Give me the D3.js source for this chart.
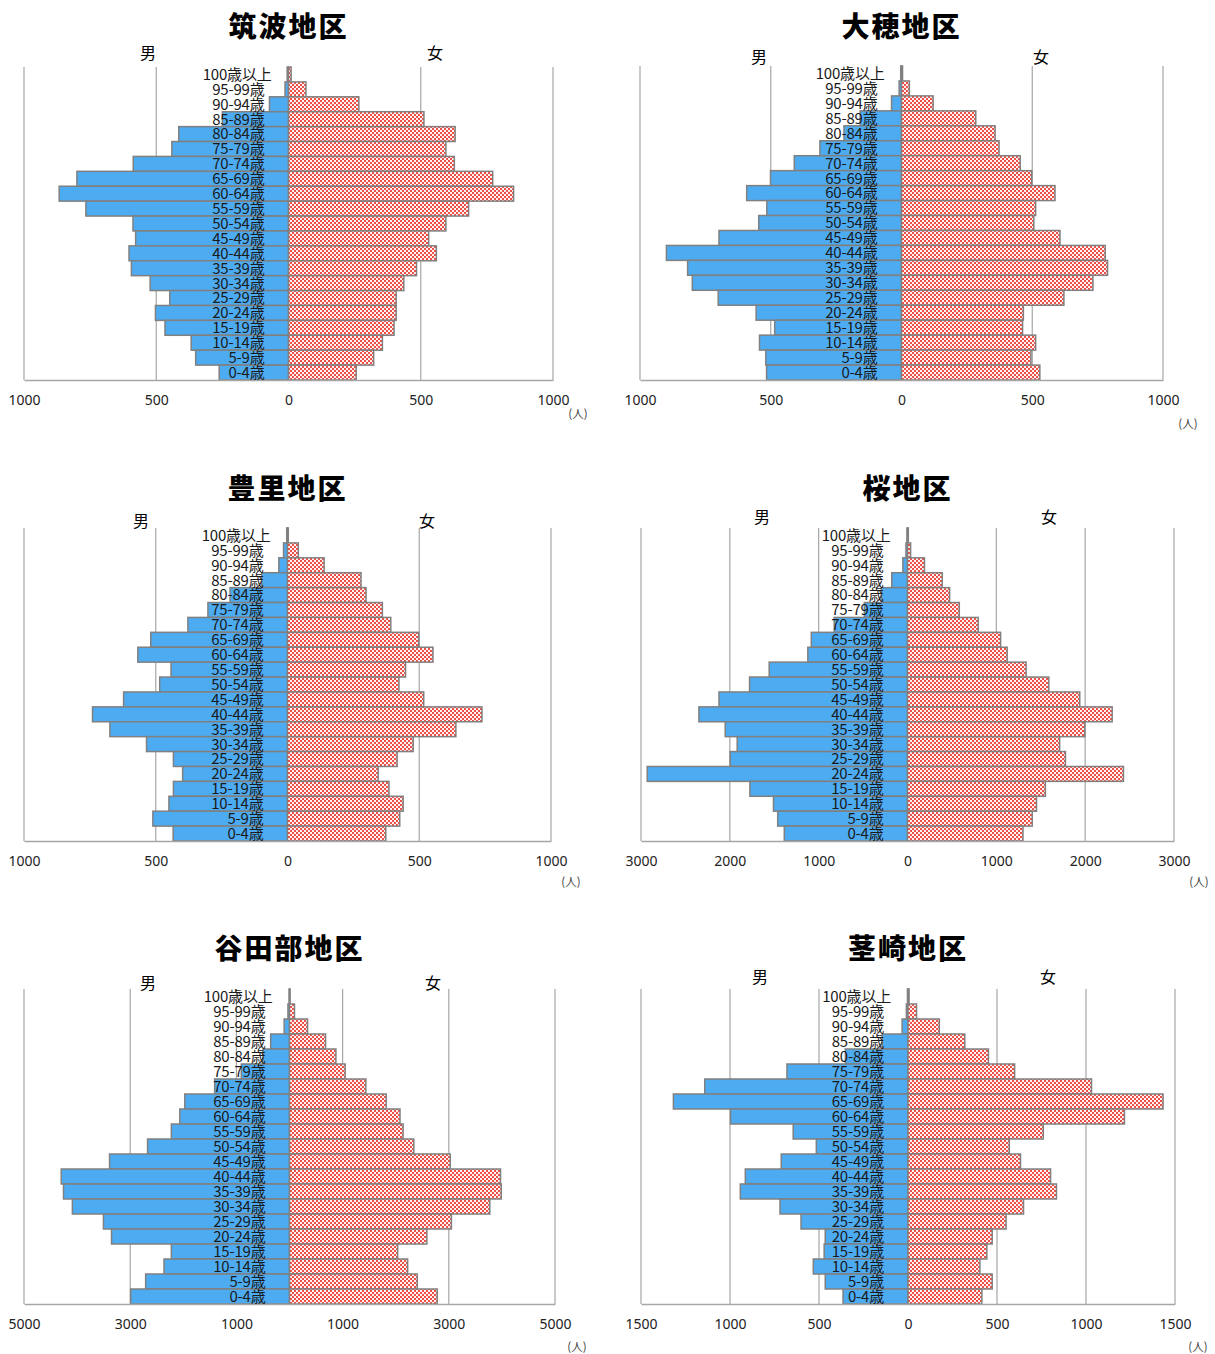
<!DOCTYPE html>
<html lang="ja">
<head>
<meta charset="UTF-8">
<title>地区別人口ピラミッド</title>
<script src="https://d3js.org/d3.v7.min.js"></script>
<style>
  body { margin: 0; background: #fff; font-family: "Noto Sans CJK JP", "Noto Sans", sans-serif; }
  .title { font-size: 28px; font-weight: 900; text-anchor: middle; letter-spacing: 2px; }
  .sex { font-size: 16px; text-anchor: middle; }
  .age { font-size: 15px; text-anchor: end; fill: #1a1a1a; letter-spacing: -0.2px; }
  .tick text { font-family: "Noto Sans", sans-serif; font-size: 14px; fill: #222; }
  .unit { font-size: 11.5px; fill: #444; }
</style>
</head>
<body>
<div id="chart"></div>
<script>
// 年齢区分（上から）
const ages = ["100歳以上", "95-99歳", "90-94歳", "85-89歳", "80-84歳", "75-79歳", "70-74歳",
  "65-69歳", "60-64歳", "55-59歳", "50-54歳", "45-49歳", "40-44歳", "35-39歳", "30-34歳",
  "25-29歳", "20-24歳", "15-19歳", "10-14歳", "5-9歳", "0-4歳"];

const districts = ["筑波地区", "大穂地区", "豊里地区", "桜地区", "谷田部地区", "茎崎地区"];

// 男
const tsukubaM = [5, 13, 72, 250, 415, 441, 587, 800, 867, 766, 588, 578, 603, 594, 523, 449, 503, 467, 368, 351, 262];
const ohoM = [3, 9, 38, 158, 220, 312, 410, 501, 592, 515, 546, 698, 899, 818, 800, 701, 556, 485, 543, 519, 516];
const toyosatoM = [3, 15, 33, 98, 218, 302, 378, 519, 568, 442, 485, 622, 740, 674, 535, 433, 398, 433, 450, 511, 434];
const sakuraM = [5, 17, 52, 177, 294, 486, 825, 1083, 1122, 1557, 1778, 2122, 2348, 2052, 1917, 1996, 2930, 1774, 1509, 1461, 1387];
const yatabeM = [5, 29, 101, 355, 500, 908, 1410, 1972, 2066, 2225, 2673, 3389, 4299, 4256, 4089, 3504, 3352, 2225, 2363, 2709, 2991];
const kukizakiM = [3, 9, 33, 145, 352, 680, 1142, 1318, 997, 645, 515, 712, 914, 942, 719, 601, 465, 471, 532, 465, 365];

// 女
const tsukubaF = [10, 66, 266, 512, 630, 595, 627, 772, 851, 681, 595, 530, 559, 484, 436, 407, 407, 399, 355, 322, 256];
const ohoF = [4, 30, 121, 284, 358, 373, 454, 498, 587, 513, 506, 606, 779, 788, 732, 621, 466, 463, 513, 495, 529];
const toyosatoF = [3, 41, 139, 279, 298, 360, 392, 498, 552, 448, 423, 517, 738, 639, 477, 416, 344, 385, 439, 426, 373];
const sakuraF = [9, 35, 191, 391, 474, 583, 796, 1048, 1122, 1335, 1591, 1939, 2304, 1996, 1713, 1778, 2431, 1552, 1452, 1404, 1300];
const yatabeF = [10, 94, 340, 679, 874, 1048, 1438, 1821, 2081, 2139, 2341, 3027, 3974, 3988, 3772, 3049, 2587, 2037, 2225, 2406, 2782];
const kukizakiF = [6, 48, 176, 319, 452, 599, 1031, 1433, 1216, 760, 569, 632, 801, 834, 649, 551, 473, 443, 404, 473, 415];

// 目盛
const ticks1000 = [-1000, -500, 0, 500, 1000];
const ticks3000 = [-3000, -2000, -1000, 0, 1000, 2000, 3000];
const ticks5000 = [-5000, -3000, -1000, 1000, 3000, 5000];
const ticks1500 = [-1500, -1000, -500, 0, 500, 1000, 1500];

const maleData = [tsukubaM, ohoM, toyosatoM, sakuraM, yatabeM, kukizakiM];
const femaleData = [tsukubaF, ohoF, toyosatoF, sakuraF, yatabeF, kukizakiF];
const tickSets = [ticks1000, ticks1000, ticks1000, ticks3000, ticks5000, ticks1500];

// 配置
const layout = [
  { left: 24, right: 553, top: 67, bottom: 380, titleY: 27, sexY: 53, male: 148, female: 435, unit: [578, 414] },
  { left: 640, right: 1163, top: 66, bottom: 380, titleY: 27, sexY: 57, male: 759, female: 1041, unit: [1188, 424] },
  { left: 24, right: 551, top: 528, bottom: 841, titleY: 489, sexY: 521, male: 141, female: 427, unit: [571, 882] },
  { left: 641, right: 1174, top: 528, bottom: 841, titleY: 489, sexY: 517, male: 762, female: 1049, unit: [1199, 882] },
  { left: 24, right: 555, top: 989, bottom: 1304, titleY: 949, sexY: 983, male: 148, female: 433, unit: [577, 1347] },
  { left: 641, right: 1175, top: 989, bottom: 1304, titleY: 949, sexY: 977, male: 760, female: 1048, unit: [1198, 1347] }
];

const svg = d3.select("#chart").append("svg")
  .attr("width", 1215)
  .attr("height", 1354);

// 女性バーの網掛け
const pat = svg.append("defs").append("pattern")
  .attr("id", "checker")
  .attr("patternUnits", "userSpaceOnUse")
  .attr("width", 4).attr("height", 4);
pat.append("rect").attr("width", 4).attr("height", 4).attr("fill", "#fff3f1");
pat.append("rect").attr("width", 2).attr("height", 2).attr("fill", "#ec5048");
pat.append("rect").attr("x", 2).attr("y", 2).attr("width", 2).attr("height", 2).attr("fill", "#ec5048");

districts.forEach((name, i) => {
  const L = layout[i];
  const ticks = tickSets[i];
  const max = d3.max(ticks);
  const g = svg.append("g");

  const x = d3.scaleLinear().domain([-max, max]).range([L.left, L.right]);
  const y = d3.scaleBand().domain(ages).range([L.top, L.bottom]).padding(0);

  // グリッド線
  g.selectAll(".grid")
    .data(ticks)
    .enter().append("line")
    .attr("x1", d => x(d)).attr("x2", d => x(d))
    .attr("y1", L.top).attr("y2", L.bottom)
    .attr("stroke", "#a6a6a6").attr("stroke-width", 1.2);

  // 縦軸
  g.append("line")
    .attr("x1", x(0)).attr("x2", x(0))
    .attr("y1", L.top).attr("y2", L.bottom)
    .attr("stroke", "#8c8c8c").attr("stroke-width", 1.5);

  // 男
  g.selectAll(".m")
    .data(maleData[i])
    .enter().append("rect")
    .attr("x", d => x(-d))
    .attr("y", (d, j) => y(ages[j]))
    .attr("width", d => x(0) - x(-d))
    .attr("height", y.bandwidth())
    .attr("fill", "#4dabf2")
    .attr("stroke", "#808080").attr("stroke-width", 1.5);

  // 女
  g.selectAll(".f")
    .data(femaleData[i])
    .enter().append("rect")
    .attr("x", x(0))
    .attr("y", (d, j) => y(ages[j]))
    .attr("width", d => x(d) - x(0))
    .attr("height", y.bandwidth())
    .attr("fill", "url(#checker)")
    .attr("stroke", "#808080").attr("stroke-width", 1.5);

  // 横軸
  const axis = g.append("g")
    .attr("transform", `translate(0,${L.bottom})`)
    .call(d3.axisBottom(x).tickValues(ticks).tickSize(0).tickPadding(15).tickFormat(d => Math.abs(d)));
  axis.select(".domain").attr("stroke", "#a6a6a6").attr("stroke-width", 1.5);

  // 年齢ラベル
  g.selectAll(".age")
    .data(ages)
    .enter().append("text")
    .attr("class", "age")
    .attr("x", (d, j) => x(0) - (j === 0 ? 17 : 24))
    .attr("y", d => y(d) + y.bandwidth() / 2)
    .attr("dy", "0.36em")
    .text(d => d);

  g.append("text").attr("class", "title")
    .attr("x", (L.left + L.right) / 2).attr("y", L.titleY).attr("dy", "0.36em")
    .text(name);
  g.append("text").attr("class", "sex")
    .attr("x", L.male).attr("y", L.sexY).attr("dy", "0.36em").text("男");
  g.append("text").attr("class", "sex")
    .attr("x", L.female).attr("y", L.sexY).attr("dy", "0.36em").text("女");
  g.append("text").attr("class", "unit")
    .attr("x", L.unit[0]).attr("y", L.unit[1]).attr("text-anchor", "middle").attr("dy", "0.36em")
    .text("(人)");
});
</script>
</body>
</html>
